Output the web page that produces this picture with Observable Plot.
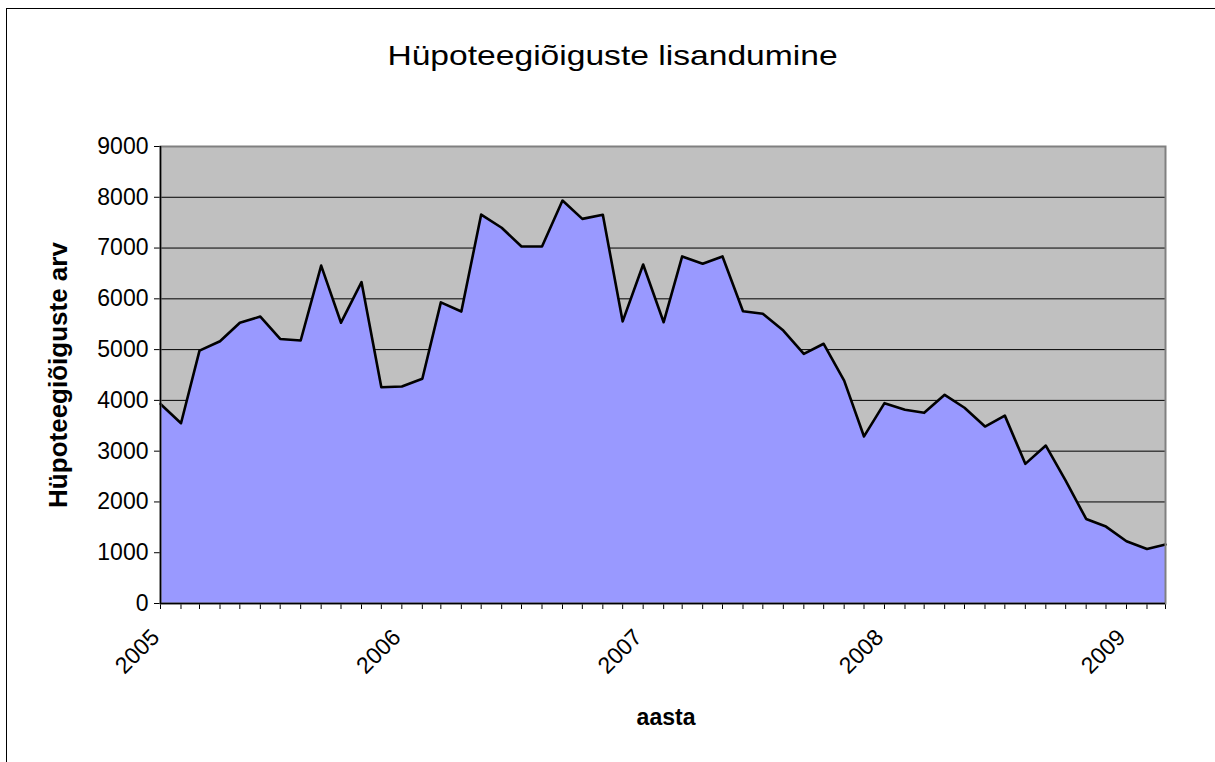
<!DOCTYPE html>
<html><head><meta charset="utf-8">
<script src="https://cdn.jsdelivr.net/npm/d3@7"></script>
<script src="https://cdn.jsdelivr.net/npm/@observablehq/plot@0.6"></script>
<style>
html,body{margin:0;padding:0;background:#fff;overflow:hidden;width:1215px;height:762px}
body{position:relative;font-family:"Liberation Sans",Arial,sans-serif}
#title{height:100px;position:relative}
#title span{position:absolute;left:5px;width:1215px;top:42px;text-align:center;font-size:28px;line-height:28px;transform:scaleX(1.2);color:#000}
.bl{position:absolute;background:#000}
#chart svg{display:block}
</style></head><body>
<div id="title"><span>Hüpoteegiõiguste lisandumine</span></div>
<div id="chart"></div>
<div class="bl" style="left:6px;top:8px;width:1209px;height:1px"></div>
<div class="bl" style="left:6px;top:8px;width:1px;height:754px"></div>
<script>
const months = [
  "2005-01","2005-02","2005-03","2005-04","2005-05","2005-06","2005-07","2005-08","2005-09","2005-10","2005-11","2005-12",
  "2006-01","2006-02","2006-03","2006-04","2006-05","2006-06","2006-07","2006-08","2006-09","2006-10","2006-11","2006-12",
  "2007-01","2007-02","2007-03","2007-04","2007-05","2007-06","2007-07","2007-08","2007-09","2007-10","2007-11","2007-12",
  "2008-01","2008-02","2008-03","2008-04","2008-05","2008-06","2008-07","2008-08","2008-09","2008-10","2008-11","2008-12",
  "2009-01","2009-02","2009-03"
];
const values = [
  3930, 3550, 4980, 5165, 5530, 5650, 5210, 5180, 6655, 5530, 6330, 4260,
  4275, 4425, 5930, 5750, 7660, 7400, 7030, 7030, 7935, 7575, 7655, 5555,
  6675, 5540, 6835, 6690, 6835, 5755, 5705, 5375, 4915, 5115, 4390, 3290,
  3945, 3815, 3755, 4110, 3855, 3485, 3700, 2750, 3110, 2420, 1665, 1515,
  1225, 1075, 1160
];
const yTicks = [0, 1000, 2000, 3000, 4000, 5000, 6000, 7000, 8000, 9000];
const gridValues = [1000, 2000, 3000, 4000, 5000, 6000, 7000, 8000];
const yearLabels = ["2005", "2006", "2007", "2008", "2009"];
const yearDates = ["2005-01", "2006-01", "2007-01", "2008-01", "2009-01"];
const yTitle = "Hüpoteegiõiguste arv";
const xTitle = "aasta";

const toDate = m => new Date(m + "-01T00:00:00Z");
const data = months.map((m, i) => ({date: toDate(m), value: values[i]}));
const years = yearLabels.map((t, i) => ({date: toDate(yearDates[i]), t}));

const chart = Plot.plot({
  width: 1215, height: 662,
  marginLeft: 160, marginRight: 50, marginTop: 46, marginBottom: 159,
  style: {fontFamily: '"Liberation Sans", Arial, sans-serif', fontSize: "23px", color: "#000", background: "transparent", overflow: "visible"},
  x: {type: "utc", domain: [data[0].date, data[data.length - 1].date], ticks: data.map(d => d.date), tickFormat: () => "", tickSize: 6, label: null},
  y: {domain: [0, 9000], ticks: yTicks, tickFormat: d => String(d), tickSize: 6, tickPadding: 6, label: null},
  marks: [
    Plot.frame({fill: "#C0C0C0"}),
    Plot.ruleY(gridValues, {stroke: "#000", strokeWidth: 1}),
    Plot.areaY(data, {x: "date", y: "value", fill: "#9999FF"}),
    Plot.lineY(data, {x: "date", y: "value", stroke: "#000", strokeWidth: 2.6}),
    Plot.frame({stroke: "#808080", strokeWidth: 2}),
    Plot.ruleX([data[0].date], {stroke: "#000", strokeWidth: 1.5}),
    Plot.ruleY([0], {stroke: "#000", strokeWidth: 1.5}),
    Plot.text(years, {x: "date", text: "t", frameAnchor: "bottom", rotate: -45, textAnchor: "end", lineAnchor: "middle", dx: -5, dy: 30, fontSize: 23, fill: "#000"}),
    Plot.text([yTitle], {text: d => d, frameAnchor: "left", textAnchor: "middle", lineAnchor: "middle", dx: -102, rotate: -90, fontSize: 26, fontWeight: "bold", fill: "#000"}),
    Plot.text([xTitle], {text: d => d, frameAnchor: "bottom", textAnchor: "middle", lineAnchor: "middle", dx: 3, dy: 114, fontSize: 23, fontWeight: "bold", fill: "#000"})
  ]
});
document.getElementById("chart").appendChild(chart);
</script>
</body></html>
